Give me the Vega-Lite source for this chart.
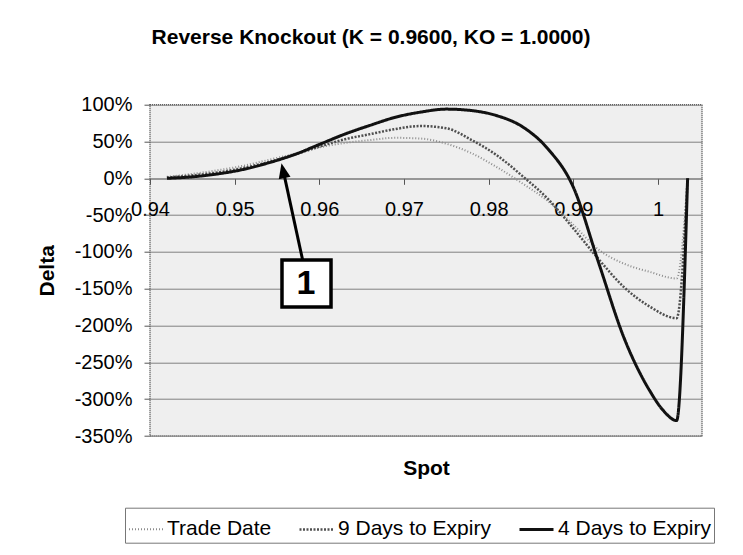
{
  "$schema": "https://vega.github.io/schema/vega-lite/v6.json",
  "width": 552,
  "height": 331.3,
  "autosize": "none",
  "padding": {"left": 150, "top": 104.7, "right": 41, "bottom": 119},
  "background": "white",
  "config": {
    "font": "Liberation Sans",
    "locale": {"number": {"decimal": ".", "thousands": ",", "grouping": [3], "currency": ["$", ""], "minus": "-"}},
    "view": {"fill": "#efefef", "stroke": "#555555", "strokeDash": [1, 1], "strokeWidth": 1.5},
    "axis": {"labelOverlap": false}
  },
  "title": {
    "text": "Reverse Knockout (K = 0.9600, KO = 1.0000)",
    "fontSize": 21,
    "fontWeight": "bold",
    "color": "black",
    "anchor": "middle",
    "dx": -55,
    "offset": 47
  },
  "datasets": {
    "curves": [
      {"series": "Trade Date", "spot": 0.942, "delta": 0.02},
      {"series": "Trade Date", "spot": 0.945, "delta": 0.06},
      {"series": "Trade Date", "spot": 0.948, "delta": 0.11},
      {"series": "Trade Date", "spot": 0.951, "delta": 0.17},
      {"series": "Trade Date", "spot": 0.954, "delta": 0.25},
      {"series": "Trade Date", "spot": 0.957, "delta": 0.33},
      {"series": "Trade Date", "spot": 0.960, "delta": 0.42},
      {"series": "Trade Date", "spot": 0.963, "delta": 0.48},
      {"series": "Trade Date", "spot": 0.966, "delta": 0.52},
      {"series": "Trade Date", "spot": 0.969, "delta": 0.55},
      {"series": "Trade Date", "spot": 0.972, "delta": 0.54},
      {"series": "Trade Date", "spot": 0.975, "delta": 0.47},
      {"series": "Trade Date", "spot": 0.978, "delta": 0.34},
      {"series": "Trade Date", "spot": 0.981, "delta": 0.15},
      {"series": "Trade Date", "spot": 0.984, "delta": -0.07},
      {"series": "Trade Date", "spot": 0.987, "delta": -0.31},
      {"series": "Trade Date", "spot": 0.990, "delta": -0.63},
      {"series": "Trade Date", "spot": 0.993, "delta": -0.97},
      {"series": "Trade Date", "spot": 0.996, "delta": -1.16},
      {"series": "Trade Date", "spot": 0.999, "delta": -1.27},
      {"series": "Trade Date", "spot": 1.0022, "delta": -1.36},
      {"series": "Trade Date", "spot": 1.0035, "delta": 0.0},
      {"series": "9 Days to Expiry", "spot": 0.942, "delta": 0.01},
      {"series": "9 Days to Expiry", "spot": 0.945, "delta": 0.04},
      {"series": "9 Days to Expiry", "spot": 0.948, "delta": 0.08},
      {"series": "9 Days to Expiry", "spot": 0.951, "delta": 0.14},
      {"series": "9 Days to Expiry", "spot": 0.954, "delta": 0.22},
      {"series": "9 Days to Expiry", "spot": 0.957, "delta": 0.32},
      {"series": "9 Days to Expiry", "spot": 0.960, "delta": 0.43},
      {"series": "9 Days to Expiry", "spot": 0.963, "delta": 0.53},
      {"series": "9 Days to Expiry", "spot": 0.966, "delta": 0.60},
      {"series": "9 Days to Expiry", "spot": 0.969, "delta": 0.67},
      {"series": "9 Days to Expiry", "spot": 0.972, "delta": 0.71},
      {"series": "9 Days to Expiry", "spot": 0.975, "delta": 0.68},
      {"series": "9 Days to Expiry", "spot": 0.978, "delta": 0.52},
      {"series": "9 Days to Expiry", "spot": 0.981, "delta": 0.31},
      {"series": "9 Days to Expiry", "spot": 0.984, "delta": 0.03},
      {"series": "9 Days to Expiry", "spot": 0.987, "delta": -0.28},
      {"series": "9 Days to Expiry", "spot": 0.990, "delta": -0.68},
      {"series": "9 Days to Expiry", "spot": 0.993, "delta": -1.10},
      {"series": "9 Days to Expiry", "spot": 0.996, "delta": -1.48},
      {"series": "9 Days to Expiry", "spot": 0.999, "delta": -1.74},
      {"series": "9 Days to Expiry", "spot": 1.0022, "delta": -1.90},
      {"series": "9 Days to Expiry", "spot": 1.0035, "delta": 0.0},
      {"series": "4 Days to Expiry", "spot": 0.942, "delta": 0.0},
      {"series": "4 Days to Expiry", "spot": 0.945, "delta": 0.02},
      {"series": "4 Days to Expiry", "spot": 0.948, "delta": 0.06},
      {"series": "4 Days to Expiry", "spot": 0.951, "delta": 0.12},
      {"series": "4 Days to Expiry", "spot": 0.954, "delta": 0.21},
      {"series": "4 Days to Expiry", "spot": 0.957, "delta": 0.32},
      {"series": "4 Days to Expiry", "spot": 0.960, "delta": 0.46},
      {"series": "4 Days to Expiry", "spot": 0.963, "delta": 0.60},
      {"series": "4 Days to Expiry", "spot": 0.966, "delta": 0.72},
      {"series": "4 Days to Expiry", "spot": 0.969, "delta": 0.83},
      {"series": "4 Days to Expiry", "spot": 0.972, "delta": 0.90},
      {"series": "4 Days to Expiry", "spot": 0.975, "delta": 0.94},
      {"series": "4 Days to Expiry", "spot": 0.978, "delta": 0.92},
      {"series": "4 Days to Expiry", "spot": 0.981, "delta": 0.85},
      {"series": "4 Days to Expiry", "spot": 0.984, "delta": 0.70},
      {"series": "4 Days to Expiry", "spot": 0.987, "delta": 0.40},
      {"series": "4 Days to Expiry", "spot": 0.990, "delta": -0.12},
      {"series": "4 Days to Expiry", "spot": 0.993, "delta": -1.15},
      {"series": "4 Days to Expiry", "spot": 0.996, "delta": -2.17},
      {"series": "4 Days to Expiry", "spot": 0.999, "delta": -2.88},
      {"series": "4 Days to Expiry", "spot": 1.0006, "delta": -3.15},
      {"series": "4 Days to Expiry", "spot": 1.0022, "delta": -3.29},
      {"series": "4 Days to Expiry", "spot": 1.0035, "delta": 0.0}
    ],
    "arrow": [{"spot": 0.95803, "delta": -1.11, "spot2": 0.9558, "delta2": 0.071}],
    "head": [{"spot": 0.95553, "delta": 0.204}],
    "box": [{"spot": 0.95559, "delta": -1.11, "spot2": 0.96138, "delta2": -1.748}],
    "label": [{"spot": 0.95842, "delta": -1.44, "text": "1"}]
  },
  "layer": [
    {
      "data": {"name": "curves"},
      "mark": {"type": "line", "interpolate": "monotone", "clip": true},
      "encoding": {
        "x": {
          "field": "spot", "type": "quantitative", "title": "Spot",
          "scale": {"domain": [0.94, 1.0052], "nice": false, "zero": false},
          "axis": {
            "values": [0.94, 0.95, 0.96, 0.97, 0.98, 0.99, 1],
            "tickCount": 20,
            "format": ".2~f",
            "offset": -257.7,
            "grid": false,
            "domain": true, "domainColor": "#808080",
            "tickColor": "#555555", "tickSize": 6,
            "labelFontSize": 20, "labelColor": "black", "labelBaseline": "middle",
            "labelPadding": 25, "labelFlush": false, "labelOverlap": false,
            "titleFontSize": 21, "titleFontWeight": "bold", "titleColor": "black",
            "titleY": 289.7, "titleBaseline": "middle"
          }
        },
        "y": {
          "field": "delta", "type": "quantitative", "title": "Delta",
          "scale": {"domain": [-3.5, 1], "nice": false, "zero": false},
          "axis": {
            "values": [-3.5, -3, -2.5, -2, -1.5, -1, -0.5, 0, 0.5, 1],
            "tickCount": 20,
            "format": ".0%",
            "grid": true, "gridColor": "#808080", "gridWidth": 1,
            "domain": false,
            "tickColor": "#555555", "tickSize": 6,
            "labelFontSize": 20, "labelColor": "black", "labelPadding": 12,
            "labelFlush": false, "labelOverlap": false,
            "titleFontSize": 21, "titleFontWeight": "bold", "titleColor": "black",
            "titleX": -103, "titleY": 165.65, "titleAngle": -90,
            "titleAlign": "center", "titleBaseline": "middle"
          }
        },
        "color": {
          "field": "series", "type": "nominal",
          "scale": {"domain": ["Trade Date", "9 Days to Expiry", "4 Days to Expiry"], "range": ["#8c8c8c", "#505050", "#111111"]},
          "legend": {
            "orient": "none", "legendX": -25, "legendY": 403,
            "direction": "horizontal", "title": null,
            "strokeColor": "#777777", "padding": 3,
            "labelFontSize": 21, "labelColor": "black", "labelOffset": 3,
            "symbolType": "stroke", "symbolSize": 1156, "columnPadding": 22
          }
        },
        "strokeDash": {
          "field": "series", "type": "nominal",
          "scale": {"domain": ["Trade Date", "9 Days to Expiry", "4 Days to Expiry"], "range": [[1, 2], [2, 1.5], [1, 0]]},
          "legend": {
            "orient": "none", "legendX": -25, "legendY": 403,
            "direction": "horizontal", "title": null,
            "strokeColor": "#777777", "padding": 3,
            "labelFontSize": 21, "labelColor": "black", "labelOffset": 3,
            "symbolType": "stroke", "symbolSize": 1156, "columnPadding": 22
          }
        },
        "strokeWidth": {
          "field": "series", "type": "nominal",
          "scale": {"domain": ["Trade Date", "9 Days to Expiry", "4 Days to Expiry"], "range": [2, 3, 4.5]},
          "legend": {
            "orient": "none", "legendX": -25, "legendY": 403,
            "direction": "horizontal", "title": null,
            "strokeColor": "#777777", "padding": 3,
            "labelFontSize": 21, "labelColor": "black", "labelOffset": 3,
            "symbolType": "stroke", "symbolSize": 1156, "columnPadding": 22
          }
        }
      }
    },
    {
      "data": {"name": "arrow"},
      "mark": {"type": "rule", "color": "black", "strokeWidth": 3},
      "encoding": {
        "x": {"field": "spot", "type": "quantitative", "title": "Spot"},
        "y": {"field": "delta", "type": "quantitative", "title": "Delta"},
        "x2": {"field": "spot2"},
        "y2": {"field": "delta2"}
      }
    },
    {
      "data": {"name": "head"},
      "mark": {"type": "point", "shape": "M0,0L0.8,2L-0.8,2Z", "filled": true, "color": "black", "opacity": 1, "size": 225, "angle": -12.25},
      "encoding": {
        "x": {"field": "spot", "type": "quantitative", "title": "Spot"},
        "y": {"field": "delta", "type": "quantitative", "title": "Delta"}
      }
    },
    {
      "data": {"name": "box"},
      "mark": {"type": "rect", "fill": "white", "stroke": "black", "strokeWidth": 3.5},
      "encoding": {
        "x": {"field": "spot", "type": "quantitative", "title": "Spot"},
        "y": {"field": "delta", "type": "quantitative", "title": "Delta"},
        "x2": {"field": "spot2"},
        "y2": {"field": "delta2"}
      }
    },
    {
      "data": {"name": "label"},
      "mark": {"type": "text", "fontSize": 34, "fontWeight": "bold", "color": "black", "align": "center", "baseline": "middle"},
      "encoding": {
        "x": {"field": "spot", "type": "quantitative", "title": "Spot"},
        "y": {"field": "delta", "type": "quantitative", "title": "Delta"},
        "text": {"field": "text"}
      }
    }
  ]
}
